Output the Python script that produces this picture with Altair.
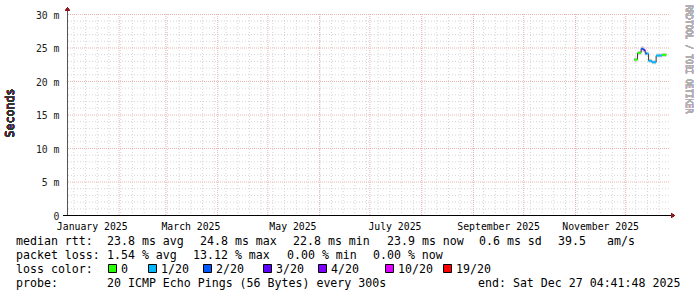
import altair as alt
import pandas as pd

# ---------------- data ----------------
# median RTT segments (ms), step style
seg_start = ["2025-12-06T06:00:00Z", "2025-12-08T09:00:00Z", "2025-12-10T12:00:00Z",
             "2025-12-12T00:00:00Z", "2025-12-13T00:00:00Z", "2025-12-14T00:00:00Z",
             "2025-12-15T00:00:00Z", "2025-12-17T00:00:00Z", "2025-12-19T12:00:00Z",
             "2025-12-23T00:00:00Z"]
seg_end = seg_start[1:] + ["2025-12-25T18:00:00Z"]
median_ms = [23.2, 24.2, 24.8, 24.6, 24.1, 24.1, 23.0, 22.8, 23.8, 23.9]
loss_class = ["0", "0", "2/20", "3/20", "2/20", "1/20", "1/20", "1/20", "1/20", "0"]
smoke_lo = [22.9, 23.9, 24.4, 24.3, 23.8, 23.8, 22.7, 22.5, 23.5, 23.6]
smoke_hi = [23.5, 24.5, 25.2, 25.0, 24.4, 24.4, 23.3, 23.1, 24.1, 24.2]

loss_labels = ["0", "1/20", "2/20", "3/20", "4/20", "10/20", "19/20"]
loss_colors = ["#26ff00", "#00b8ff", "#0059ff", "#5e00ff", "#7e00ff", "#dd00ff", "#ff0000"]

rtt_stats = ["23.8 ms avg", "24.8 ms max", "22.8 ms min", "23.9 ms now", "0.6 ms sd", "39.5", "am/s"]
loss_stats = ["1.54 % avg", "13.12 % max", "0.00 % min", "0.00 % now"]
probe_text = "20 ICMP Echo Pings (56 Bytes) every 300s"
end_text = "end: Sat Dec 27 04:41:48 2025"
row_titles = ["median rtt:", "packet loss:", "loss color:", "probe:"]

y_ticks = [0, 5, 10, 15, 20, 25, 30]
x_label_dates = ["2025-01-16", "2025-03-16", "2025-05-16", "2025-07-16", "2025-09-16", "2025-11-16"]
x_start = "2025-01-01T04:41:48Z"
x_end = "2025-12-27T04:41:48Z"

# ---------------- layout ----------------
W, H = 602, 201
L, T = 67, 14
MONO = "DejaVu Sans Mono"
FS = 11.6
AFS = 9.8


def ms(s):
    ts = pd.Timestamp(s)
    if ts.tzinfo is None:
        ts = ts.tz_localize("UTC")
    return int(ts.value // 10**6)


xscale = alt.Scale(type="utc", domain=[ms(x_start), ms(x_end)])
yscale = alt.Scale(domain=[0, 30], nice=False, zero=True)

xaxis = alt.Axis(values=[ms(d) for d in x_label_dates],
                 labelExpr="utcFormat(datum.value, '%B %Y')",
                 domain=False, ticks=False, tickSize=0, grid=False, title=None,
                 labelFont=MONO, labelFontSize=AFS, labelColor="#000",
                 labelPadding=6, labelAngle=0, labelFlush=False, labelOverlap=False)
yaxis = alt.Axis(values=y_ticks,
                 labelExpr="datum.value == 0 ? '0\u00a0\u00a0' : datum.value + ' m'",
                 domain=False, ticks=False, tickSize=0, grid=False, title=None,
                 labelFont=MONO, labelFontSize=AFS, labelColor="#222",
                 labelPadding=8, labelOffset=1, labelFlush=False, labelOverlap=False)

# grid positions
minor_h = pd.DataFrame({"v": [v for v in range(1, 31) if v % 5 != 0]})
major_h = pd.DataFrame({"v": [5, 10, 15, 20, 25, 30]})
weeks = pd.date_range("2025-01-05", "2025-12-21", freq="7D")
minor_v = pd.DataFrame({"d": [d.strftime("%Y-%m-%dT00:00:00Z") for d in weeks]})
months = pd.date_range("2025-02-01", "2025-12-01", freq="MS")
major_v = pd.DataFrame({"d": [d.strftime("%Y-%m-%dT00:00:00Z") for d in months]})

GRAY = "#d6d6d6"
RED = "#eab4b4"

g_minor_v = alt.Chart(minor_v).mark_rule(color=GRAY, strokeDash=[1, 2], strokeWidth=1, xOffset=0.5).encode(
    x=alt.X("d:T", scale=xscale, axis=xaxis))
g_minor_h = alt.Chart(minor_h).mark_rule(color=GRAY, strokeDash=[1, 2], strokeWidth=1, yOffset=0.5).encode(
    y=alt.Y("v:Q", scale=yscale, axis=yaxis))
g_major_v = alt.Chart(major_v).mark_rule(color=RED, strokeDash=[1, 1], strokeWidth=1, xOffset=0.5).encode(
    x=alt.X("d:T", scale=xscale, axis=xaxis))
g_major_h = alt.Chart(major_h).mark_rule(color=RED, strokeDash=[1, 1], strokeWidth=1, yOffset=0.5).encode(
    y=alt.Y("v:Q", scale=yscale, axis=yaxis))

segs = pd.DataFrame({"s": seg_start, "e": seg_end, "m": median_ms, "loss": loss_class,
                     "lo": smoke_lo, "hi": smoke_hi})
conn = pd.DataFrame({"s": seg_start[1:], "a": median_ms[:-1], "b": median_ms[1:]})

smoke = alt.Chart(segs).mark_rect(color="#bbbbbb", opacity=0.6).encode(
    x=alt.X("s:T", scale=xscale, axis=xaxis), x2="e:T",
    y=alt.Y("lo:Q", scale=yscale, axis=yaxis), y2="hi:Q")
connectors = alt.Chart(conn).mark_rule(color="#333333", strokeWidth=1).encode(
    x=alt.X("s:T", scale=xscale, axis=xaxis),
    y=alt.Y("a:Q", scale=yscale, axis=yaxis), y2="b:Q")
median = alt.Chart(segs).mark_rule(strokeWidth=2).encode(
    x=alt.X("s:T", scale=xscale, axis=xaxis), x2="e:T",
    y=alt.Y("m:Q", scale=yscale, axis=yaxis),
    color=alt.Color("loss:N", scale=alt.Scale(domain=loss_labels, range=loss_colors), legend=None))

# axes lines & arrows
y_axis_line = alt.Chart(minor_h).mark_rule(color="#555555", strokeWidth=1).encode(
    x=alt.value(0.5), y=alt.value(-5), y2=alt.value(H))
x_axis_line = alt.Chart(minor_h).mark_rule(color="#000000", strokeWidth=1).encode(
    x=alt.value(-4), x2=alt.value(W + 3), y=alt.value(H + 0.5))
arrow_up = alt.Chart(minor_h).mark_point(shape="triangle-up", filled=True, color="#8b1a1a",
                                         size=22, opacity=1).encode(
    x=alt.value(0.5), y=alt.value(-5))
arrow_right = alt.Chart(minor_h).mark_point(shape="triangle-right", filled=True, color="#8b1a1a",
                                            size=22, opacity=1).encode(
    x=alt.value(W + 4), y=alt.value(H + 0.5))

# ---------------- legend text ----------------
row_base = [245, 259, 273, 287]
texts = []
for i, t in enumerate(row_titles):
    texts.append((t, 16, row_base[i]))
rtt_x = [107, 200, 293, 387, 479, 558, 607]
for t, x in zip(rtt_stats, rtt_x):
    texts.append((t, x, row_base[0]))
loss_x = [107, 193, 287, 373]
for t, x in zip(loss_stats, loss_x):
    texts.append((t, x, row_base[1]))
box_x = [108, 148, 203, 263, 318, 385, 443]
for t, x in zip(loss_labels, box_x):
    texts.append((t, x + 13, row_base[2]))
texts.append((probe_text, 107, row_base[3]))
texts.append((end_text, 478, row_base[3]))
tdf = pd.DataFrame({"t": [a for a, _, _ in texts],
                    "px": [b - L for _, b, _ in texts],
                    "py": [c - T for _, _, c in texts]})
legend_text = alt.Chart(tdf).mark_text(align="left", baseline="alphabetic", font=MONO,
                                        fontSize=FS, color="#000").encode(
    x=alt.X("px:Q", scale=None, axis=None), y=alt.Y("py:Q", scale=None, axis=None), text="t:N")

bdf = pd.DataFrame({"px": [x - L + 0.5 for x in box_x],
                    "px2": [x - L + 8.5 for x in box_x],
                    "c": loss_colors})
boxes = alt.Chart(bdf).mark_rect(stroke="#000", strokeWidth=1).encode(
    x=alt.X("px:Q", scale=None, axis=None), x2="px2:Q",
    y=alt.value(264.5 - T), y2=alt.value(272.5 - T),
    fill=alt.Fill("c:N", scale=None, legend=None))

seconds = alt.Chart(minor_h).mark_text(text="Seconds", angle=270, font=MONO,
                                       fontSize=FS, fontWeight="normal", color="#333",
                                       align="center", baseline="middle").encode(
    x=alt.value(11 - L), y=alt.value(113 - T))
credit = alt.Chart(minor_h).mark_text(text="RRDTOOL / TOBI OETIKER", angle=90, font=MONO,
                                      fontSize=8.2, color="#b0b0b0", align="left",
                                      baseline="middle").encode(
    x=alt.value(688 - L), y=alt.value(5 - T))

chart = alt.layer(
    g_minor_v, g_minor_h, g_major_v, g_major_h,
    smoke, connectors, median,
    y_axis_line, x_axis_line, arrow_up, arrow_right,
    legend_text, boxes, seconds, credit
).properties(
    width=W, height=H,
    padding={"left": L, "top": T, "right": 697 - L - W, "bottom": 297 - T - H},
    autosize=alt.AutoSizeParams(type="none"),
    background="white"
).configure_view(stroke=None)

chart.save("out.html", embed_options={"renderer": "svg", "actions": False})
